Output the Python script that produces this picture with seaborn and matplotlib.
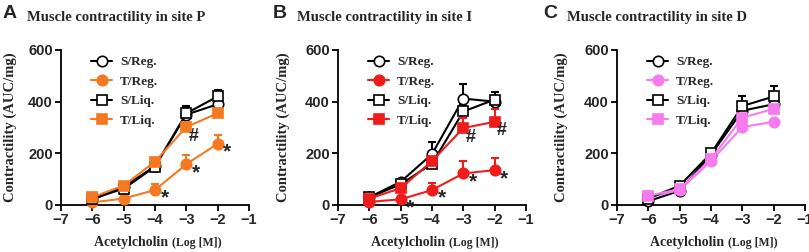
import numpy as np
import pandas as pd
import seaborn as sns
import matplotlib.pyplot as plt

# Acetylcholine concentrations (log M)
conc = [-6, -5, -4, -3, -2]
series_names = ["S/Reg.", "T/Reg.", "S/Liq.", "T/Liq."]

# Site P
p_s_reg = [20, 70, 150, 350, 390]
p_t_reg = [10, 25, 58, 158, 237]
p_s_liq = [25, 63, 148, 355, 420]
p_t_liq = [30, 75, 168, 302, 355]
p_s_reg_err = [5, 8, 10, 25, 20]
p_t_reg_err = [3, 5, 25, 37, 35]
p_s_liq_err = [5, 10, 12, 28, 27]
p_t_liq_err = [5, 8, 10, 18, 10]

# Site I
i_s_reg = [30, 90, 197, 412, 400]
i_t_reg = [12, 22, 58, 122, 135]
i_s_liq = [30, 80, 160, 362, 408]
i_t_liq = [25, 65, 170, 298, 322]
i_s_reg_err = [5, 8, 45, 55, 20]
i_t_reg_err = [3, 5, 27, 50, 47]
i_s_liq_err = [5, 8, 10, 20, 28]
i_t_liq_err = [5, 8, 10, 37, 49]

# Site D
d_s_reg = [15, 55, 195, 365, 390]
d_t_reg = [30, 58, 170, 302, 322]
d_s_liq = [25, 75, 200, 383, 420]
d_t_liq = [35, 62, 178, 338, 372]
d_s_reg_err = [5, 5, 10, 20, 20]
d_t_reg_err = [5, 5, 8, 10, 10]
d_s_liq_err = [5, 5, 10, 37, 40]
d_t_liq_err = [5, 5, 8, 12, 10]

# significance marks: (series, concentration, symbol)
p_marks = [("T/Reg.", -4, "*"), ("T/Reg.", -3, "*"), ("T/Reg.", -2, "*"), ("T/Liq.", -3, "#")]
i_marks = [("T/Reg.", -5, "*"), ("T/Reg.", -4, "*"), ("T/Reg.", -3, "*"), ("T/Reg.", -2, "*"),
           ("T/Liq.", -3, "#"), ("T/Liq.", -2, "#")]
d_marks = []

panels = [
    ("A", "Muscle contractility in site P", "#F47920",
     [p_s_reg, p_t_reg, p_s_liq, p_t_liq], [p_s_reg_err, p_t_reg_err, p_s_liq_err, p_t_liq_err], p_marks),
    ("B", "Muscle contractility in site I", "#F01C1C",
     [i_s_reg, i_t_reg, i_s_liq, i_t_liq], [i_s_reg_err, i_t_reg_err, i_s_liq_err, i_t_liq_err], i_marks),
    ("C", "Muscle contractility in site D", "#F67BEF",
     [d_s_reg, d_t_reg, d_s_liq, d_t_liq], [d_s_reg_err, d_t_reg_err, d_s_liq_err, d_t_liq_err], d_marks),
]

sns.set_style("ticks")
serif = "Liberation Serif"
sans = "Liberation Sans"

W, H = 809, 252
fig = plt.figure(figsize=(W / 100, H / 100), dpi=100)
renderer = fig.canvas.get_renderer()
lefts = [61, 338, 617]
offsets = [0, 270, 540]
ylab_right = [17, 290, 568]

for k, (letter, title, tcol, vals, errs, marks) in enumerate(panels):
    ax = fig.add_axes([lefts[k] / W, 1 - 205 / H, 188 / W, 155 / H])
    df = pd.DataFrame({"conc": conc * 4,
                       "value": np.concatenate(vals),
                       "err": np.concatenate(errs),
                       "series": np.repeat(series_names, len(conc))})
    styles = {
        "S/Reg.": dict(color="black", marker="o", mfc="white"),
        "T/Reg.": dict(color=tcol, marker="o", mfc=tcol),
        "S/Liq.": dict(color="black", marker="s", mfc="white"),
        "T/Liq.": dict(color=tcol, marker="s", mfc=tcol),
    }
    for z, name in enumerate(series_names):
        sub = df[df.series == name]
        st = styles[name]
        ax.errorbar(sub.conc, sub.value, yerr=[np.zeros(len(sub)), sub.err],
                    fmt="none", ecolor=st["color"], elinewidth=1.5, capsize=3,
                    capthick=1.5, zorder=2 + z, clip_on=False)
        sns.lineplot(x=sub.conc.values, y=sub.value.values, ax=ax, color=st["color"],
                     marker=st["marker"], markerfacecolor=st["mfc"],
                     markeredgecolor=st["color"], markeredgewidth=1.2, markersize=7.5,
                     linewidth=1.5, label=name, zorder=3 + z, clip_on=False)
    for name, c, sym in marks:
        v = df[(df.series == name) & (df.conc == c)].value.iloc[0]
        if sym == "*":
            ax.annotate(sym, (c, v), xytext=(7, -6), textcoords="offset points",
                        ha="center", va="center", fontsize=15, fontweight="bold",
                        family=sans, zorder=10)
        else:
            ax.annotate(sym, (c, v), xytext=(5, -6.5), textcoords="offset points",
                        ha="center", va="center", fontsize=13, fontweight="bold",
                        family=sans, zorder=10)

    ax.set_xlim(-7, -1)
    ax.set_ylim(0, 600)
    ax.set_xticks(range(-7, 0))
    ax.set_yticks([0, 200, 400, 600])
    for lab in ax.get_xticklabels() + ax.get_yticklabels():
        lab.set_fontfamily(sans)
        lab.set_fontweight("bold")
        lab.set_fontsize(10.5)
    ax.tick_params(width=1.3, length=4, pad=2, color="black")
    for sp in ["left", "bottom"]:
        ax.spines[sp].set_linewidth(1.3)
        ax.spines[sp].set_color("black")
    sns.despine(ax=ax)
    ax.set_xlabel("")
    ax.set_ylabel("Contractility (AUC/mg)", family=serif, fontweight="bold", fontsize=10.5)
    ax.yaxis.set_label_coords((ylab_right[k] - lefts[k]) / 188, 0.5)

    ax.legend(loc="upper left", bbox_to_anchor=(0.16, 0.96), frameon=False,
              prop={"family": serif, "weight": "bold", "size": 9.5},
              handlelength=1.6, labelspacing=0.55, handletextpad=0.6,
              borderpad=0, borderaxespad=0)

    ox = offsets[k]
    fig.text((ox + 3) / W, 1 - 13 / H, letter, family=sans, fontweight="bold",
             fontsize=14, va="center", ha="left")
    fig.text((ox + 27) / W, 1 - 18 / H, title, family=serif, fontweight="bold",
             fontsize=10.5, va="center", ha="left")

    # x label in two sizes, centred under the axes
    t1 = fig.text(0, 1 - 246 / H, "Acetylcholin ", family=serif,
                  fontweight="bold", fontsize=10, va="baseline", ha="left")
    t2 = fig.text(0, 1 - 246 / H, "(Log [M])", family=serif,
                  fontweight="bold", fontsize=8.5, va="baseline", ha="left")
    w1 = t1.get_window_extent(renderer).width
    w2 = t2.get_window_extent(renderer).width
    start = lefts[k] + 94 + 3 - (w1 + w2) / 2
    t1.set_x(start / W)
    t2.set_x((start + w1) / W)

fig.savefig("out.png", dpi=100)
